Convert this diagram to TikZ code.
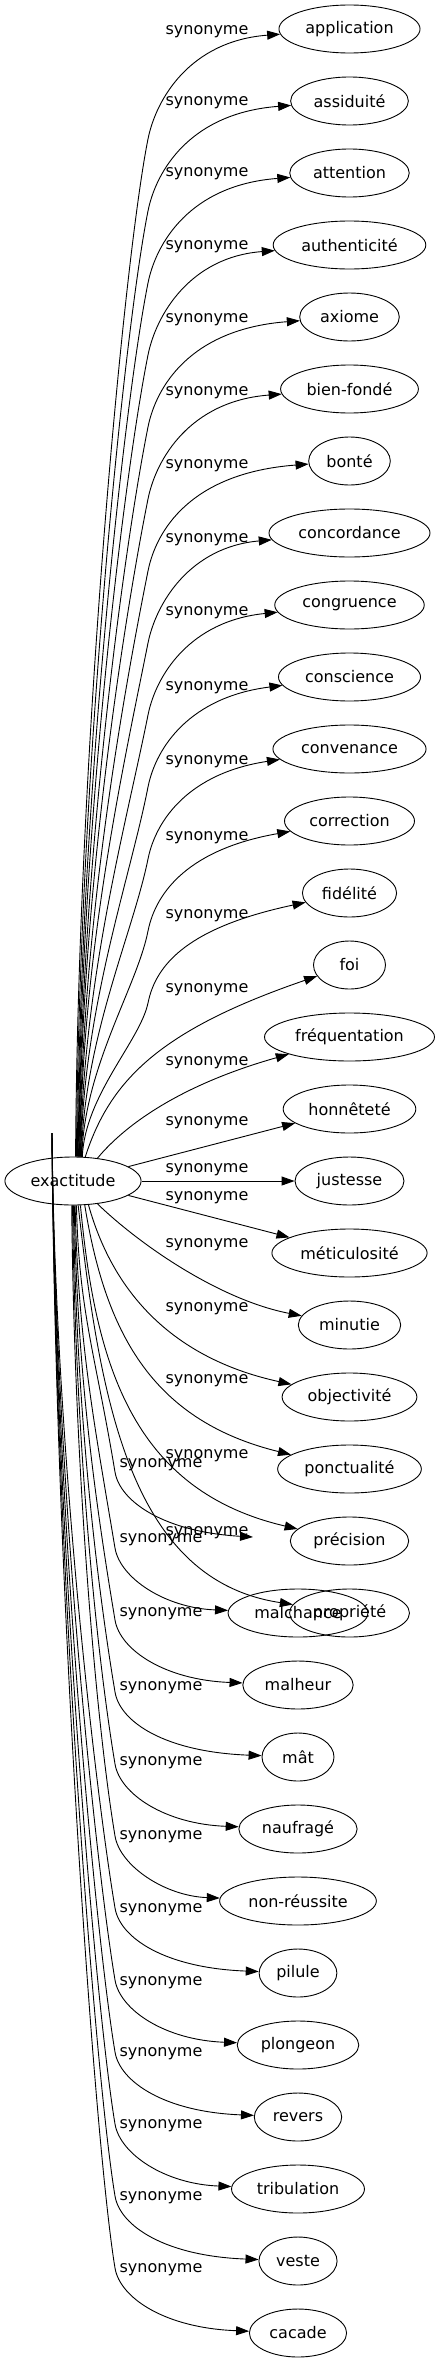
\documentclass[tikz,border=0pt]{standalone}
\usepackage{fontspec}
\setmainfont{DejaVu Sans}
\usetikzlibrary{shapes.geometric,arrows.meta}

\tikzset{
  syn/.style={shape=ellipse, draw, line width=0.9pt, inner xsep=5.75pt, inner ysep=2pt,
    minimum height=48pt, minimum width=72pt, font=\fontsize{16}{19}\selectfont},
  lbl/.style={inner sep=0pt, font=\fontsize{16}{19}\selectfont},
  arr/.style={-{Triangle[length=13pt,width=9pt]}, line width=0.9pt}
}

\begin{document}
\begin{tikzpicture}[x=1pt,y=-1pt]
\useasboundingbox (0,0) rectangle (439,2363);

\path (73,1181) node (X) [syn] {exactitude};
\coordinate (H) at (52,1133);
\coordinate (F) at (253,1537);

\path (349.5,29) node (S1) [syn] {application};
\path (349.5,101) node (S2) [syn] {assiduité};
\path (349.5,173) node (S3) [syn] {attention};
\path (349.5,245) node (S4) [syn] {authenticité};
\path (349.5,317) node (S5) [syn] {axiome};
\path (349.5,389) node (S6) [syn] {bien-fondé};
\path (349.5,461) node (S7) [syn] {bonté};
\path (349.5,533) node (S8) [syn] {concordance};
\path (349.5,605) node (S9) [syn] {congruence};
\path (349.5,677) node (S10) [syn] {conscience};
\path (349.5,749) node (S11) [syn] {convenance};
\path (349.5,821) node (S12) [syn] {correction};
\path (349.5,893) node (S13) [syn] {fidélité};
\path (349.5,965) node (S14) [syn] {foi};
\path (349.5,1037) node (S15) [syn] {fréquentation};
\path (349.5,1109) node (S16) [syn] {honnêteté};
\path (349.5,1181) node (S17) [syn] {justesse};
\path (349.5,1253) node (S18) [syn] {méticulosité};
\path (349.5,1325) node (S19) [syn] {minutie};
\path (349.5,1397) node (S20) [syn] {objectivité};
\path (349.5,1469) node (S21) [syn] {ponctualité};
\path (349.5,1541) node (S22) [syn] {précision};
\path (349.5,1613) node (S23) [syn] {propriété};
\path (298,1613) node (S24) [syn] {malchance};
\path (298,1685) node (S25) [syn] {malheur};
\path (298,1757) node (S26) [syn] {mât};
\path (298,1829) node (S27) [syn] {naufragé};
\path (298,1901) node (S28) [syn] {non-réussite};
\path (298,1973) node (S29) [syn] {pilule};
\path (298,2045) node (S30) [syn] {plongeon};
\path (298,2117) node (S31) [syn] {revers};
\path (298,2189) node (S32) [syn] {tribulation};
\path (298,2261) node (S33) [syn] {veste};
\path (298,2333) node (S34) [syn] {cacade};

\path (207,32) node (L1) [lbl] {synonyme};
\path (207,103) node (L2) [lbl] {synonyme};
\path (207,174) node (L3) [lbl] {synonyme};
\path (207,247) node (L4) [lbl] {synonyme};
\path (207,320) node (L5) [lbl] {synonyme};
\path (207,393) node (L6) [lbl] {synonyme};
\path (207,466) node (L7) [lbl] {synonyme};
\path (207,540) node (L8) [lbl] {synonyme};
\path (207,613) node (L9) [lbl] {synonyme};
\path (207,688) node (L10) [lbl] {synonyme};
\path (207,762) node (L11) [lbl] {synonyme};
\path (207,838) node (L12) [lbl] {synonyme};
\path (207,916) node (L13) [lbl] {synonyme};
\path (207,990) node (L14) [lbl] {synonyme};
\path (207,1063) node (L15) [lbl] {synonyme};
\path (207,1123) node (L16) [lbl] {synonyme};
\path (207,1170) node (L17) [lbl] {synonyme};
\path (207,1198) node (L18) [lbl] {synonyme};
\path (207,1245) node (L19) [lbl] {synonyme};
\path (207,1309) node (L20) [lbl] {synonyme};
\path (207,1381) node (L21) [lbl] {synonyme};
\path (207,1456) node (L22) [lbl] {synonyme};
\path (207,1533) node (L23) [lbl] {synonyme};
\path (161,1465) node (L24) [lbl] {synonyme};
\path (161,1540) node (L25) [lbl] {synonyme};
\path (161,1614) node (L26) [lbl] {synonyme};
\path (161,1688) node (L27) [lbl] {synonyme};
\path (161,1763) node (L28) [lbl] {synonyme};
\path (161,1837) node (L29) [lbl] {synonyme};
\path (161,1910) node (L30) [lbl] {synonyme};
\path (161,1983) node (L31) [lbl] {synonyme};
\path (161,2054) node (L32) [lbl] {synonyme};
\path (161,2126) node (L33) [lbl] {synonyme};
\path (161,2198) node (L34) [lbl] {synonyme};
\path (161,2270) node (L35) [lbl] {synonyme};

% upper fan
\draw [arr] (X.84) .. controls (78,750) and (124,259) .. (148,139) .. controls (156,99) and (190,41) .. (S1);
\draw [arr] (X.82) .. controls (79,779) and (124,331) .. (148,211) .. controls (156,171) and (190,113) .. (S2);
\draw [arr] (X.80) .. controls (80,807) and (124,403) .. (148,283) .. controls (156,243) and (190,185) .. (S3);
\draw [arr] (X.78) .. controls (80,836) and (124,475) .. (148,355) .. controls (156,315) and (190,257) .. (S4);
\draw [arr] (X.77) .. controls (81,865) and (124,547) .. (148,427) .. controls (156,387) and (190,329) .. (S5);
\draw [arr] (X.76) .. controls (81,894) and (124,619) .. (148,499) .. controls (156,459) and (190,401) .. (S6);
\draw [arr] (X.75) .. controls (82,923) and (124,691) .. (148,571) .. controls (156,531) and (190,473) .. (S7);
\draw [arr] (X.74) .. controls (82,951) and (124,763) .. (148,643) .. controls (156,603) and (190,547) .. (S8);
\draw [arr] (X.73) .. controls (83,980) and (126,825) .. (148,715) .. controls (156,675) and (190,621) .. (S9);
\draw [arr] (X.72) .. controls (83,1009) and (130,879) .. (148,787) .. controls (156,747) and (190,697) .. (S10);
\draw [arr] (X.71) .. controls (84,1038) and (133,933) .. (148,859) .. controls (156,819) and (190,773) .. (S11);
\draw [arr] (X.70) .. controls (84,1067) and (137,987) .. (148,931) .. controls (156,891) and (190,849) .. (S12);
\draw [arr] (X.69) .. controls (85,1095) and (140,1041) .. (148,1003) .. controls (156,963) and (190,927) .. (S13);
\draw [arr] (X.63) .. controls (110,1080) and (160,1030) .. (S14);
\draw [arr] (X.43) .. controls (125,1125) and (180,1085) .. (S15);

\draw [arr] (X) to (S16);
\draw [arr] (X) to (S17);
\draw [arr] (X) to (S18);

% lower fan
\draw [arr] (X.-43) .. controls (140,1245) and (220,1300) .. (S19);
\draw [arr] (X.-57) .. controls (115,1300) and (180,1360) .. (S20);
\draw [arr] (X.-64) .. controls (105,1330) and (150,1420) .. (S21);
\draw [arr] (X.-73) .. controls (95,1360) and (130,1490) .. (S22);
\draw [arr] (X.-78) .. controls (100,1400) and (130,1580) .. (S23);
\draw [arr] (X.-82) .. controls (79,1312) and (95,1352) .. (115,1472) .. controls (120,1502) and (165,1532) .. (F);
\draw [arr] (X.-85) .. controls (78,1342) and (95,1428) .. (115,1548) .. controls (120,1578) and (165,1608) .. (S24);
\draw [arr] (X.-87) .. controls (77,1371) and (95,1500) .. (115,1620) .. controls (120,1650) and (165,1680) .. (S25);
\draw [arr] (X.-89) .. controls (76,1400) and (95,1572) .. (115,1692) .. controls (120,1722) and (165,1752) .. (S26);
\draw [arr] (X.-91) .. controls (75,1429) and (95,1644) .. (115,1764) .. controls (120,1794) and (165,1824) .. (S27);
\draw [arr] (X.-93) .. controls (74,1457) and (95,1716) .. (115,1836) .. controls (120,1866) and (165,1896) .. (S28);
\draw [arr] (H) .. controls (55,1443) and (95,1788) .. (115,1908) .. controls (120,1938) and (165,1968) .. (S29);
\draw [arr] (H) .. controls (55,1472) and (95,1860) .. (115,1980) .. controls (120,2010) and (165,2040) .. (S30);
\draw [arr] (H) .. controls (55,1501) and (95,1932) .. (115,2052) .. controls (120,2082) and (165,2112) .. (S31);
\draw [arr] (H) .. controls (55,1529) and (95,2004) .. (115,2124) .. controls (120,2154) and (165,2184) .. (S32);
\draw [arr] (H) .. controls (55,1558) and (95,2076) .. (115,2196) .. controls (120,2226) and (165,2256) .. (S33);
\draw [arr] (H) .. controls (55,1587) and (95,2148) .. (115,2268) .. controls (120,2298) and (165,2328) .. (S34);

\end{tikzpicture}
\end{document}
